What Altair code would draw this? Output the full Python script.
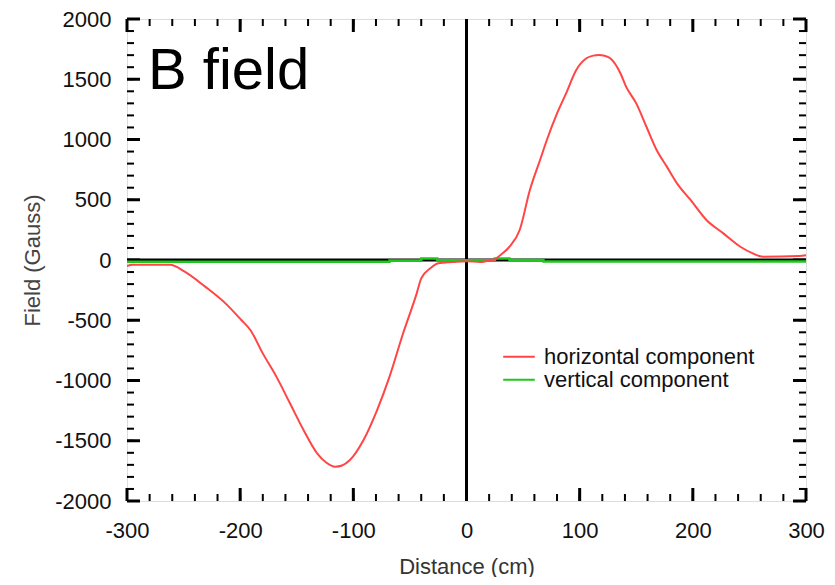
import altair as alt
import pandas as pd

# ---- data ----
red_x = [-300, -295, -262, -249, -231, -213, -199, -191, -180, -168, -156, -144, -132, -124,
         -116, -110, -103, -91, -79, -68, -56, -44, -40, -32, -25, -12, 0, 12, 20, 24, 30, 38,
         47, 56, 65, 71, 80, 88, 97, 106, 112, 117, 122, 127, 136, 141, 150, 159, 168, 177, 186, 198,
         212, 227, 242, 253, 262, 294, 300]
red_y = [-50, -40, -40, -97, -221, -360, -498, -581, -775, -968, -1189, -1411, -1604, -1680,
         -1715, -1705, -1660, -1494, -1245, -968, -608, -277, -152, -69, -27, -17, -10, -17, -5, 0, 41, 110,
         249, 581, 830, 996, 1217, 1383, 1577, 1674, 1696, 1701, 1695, 1674, 1550, 1439, 1300, 1106, 913, 775, 636, 498,
         332, 221, 110, 55, 27, 33, 40]

green_x = [-300, -68, -40, -26, 25, 38, 68, 300]
green_y = [-15, -5, 12, -3, 12, 0, -12, -12]

series_names = ["horizontal component", "vertical component"]
series_colors = ["#ff4545", "#1ec81e"]

x_major = list(range(-300, 301, 100))
x_minor = list(range(-300, 301, 20))
y_major = list(range(-2000, 2001, 500))
y_minor = list(range(-2000, 2001, 100))

title_text = ["B field"]

W, H = 679, 482
FONT = "Liberation Sans"
LBL = 22

df = pd.concat([
    pd.DataFrame({"x": red_x, "y": red_y, "series": series_names[0]}),
    pd.DataFrame({"x": green_x, "y": green_y, "series": series_names[1]}),
])

xs = alt.Scale(domain=[-300, 300], nice=False, zero=False, padding=0)
ys = alt.Scale(domain=[-2000, 2000], nice=False, zero=False, padding=0)

color = alt.Color("series:N", scale=alt.Scale(domain=series_names, range=series_colors),
                  legend=alt.Legend(title=None, orient="none", legendX=375, legendY=327,
                                    symbolType="stroke", symbolSize=1000, symbolStrokeWidth=2,
                                    labelFont=FONT, labelFontSize=LBL, labelColor="#111",
                                    labelLimit=0, clipHeight=21.6, rowPadding=0, labelOffset=8,
                                    padding=0))

label_expr = "'' + datum.value"

base_x = alt.X("x:Q", scale=xs,
               axis=alt.Axis(title="Distance (cm)", values=x_major, grid=False, domain=False,
                             ticks=False, tickSize=0, labelPadding=36, labelBaseline="alphabetic",
                             labelFlush=False, labelOverlap=False,
                             labelExpr=label_expr, labelFont=FONT,
                             labelFontSize=LBL, labelColor="#111", titleFont=FONT,
                             titleFontSize=22, titleFontWeight="normal", titleColor="#333",
                             titleBaseline="alphabetic", titleY=72))
base_y = alt.Y("y:Q", scale=ys,
               axis=alt.Axis(title="Field (Gauss)", values=y_major, grid=False, domain=False,
                             ticks=False, tickSize=0, labelPadding=16, labelExpr=label_expr,
                             labelFlush=False, labelOverlap=False,
                             labelFont=FONT, labelFontSize=LBL, labelColor="#111", titleFont=FONT,
                             titleFontSize=22, titleFontWeight="normal", titleColor="#444",
                             titleAngle=-90, titleX=-95, titleY=H / 2, titleAlign="center",
                             titleBaseline="middle"))

# zero lines
zero_h = alt.Chart(pd.DataFrame({"y": [0]})).mark_rule(color="black", strokeWidth=3).encode(
    y=alt.Y("y:Q", scale=ys))
zero_v = alt.Chart(pd.DataFrame({"x": [0]})).mark_rule(color="black", strokeWidth=3).encode(
    x=alt.X("x:Q", scale=xs))

lines_green = alt.Chart(df[df.series == series_names[1]]).mark_line(
    strokeWidth=2.5, interpolate="step-after").encode(x=base_x, y=base_y, color=color)
lines_red = alt.Chart(df[df.series == series_names[0]]).mark_line(
    strokeWidth=2, interpolate="monotone").encode(x=base_x, y=base_y, color=color)

# tick marks (inside, all four sides)
def xticks(vals, length, width):
    d = pd.DataFrame({"x": vals})
    bot = alt.Chart(d).mark_rule(color="black", strokeWidth=width).encode(
        x=alt.X("x:Q", scale=xs), y=alt.value(H), y2=alt.value(H - length))
    top = alt.Chart(d).mark_rule(color="black", strokeWidth=width).encode(
        x=alt.X("x:Q", scale=xs), y=alt.value(0), y2=alt.value(length))
    return [bot, top]

def yticks(vals, length, width):
    d = pd.DataFrame({"y": vals})
    left = alt.Chart(d).mark_rule(color="black", strokeWidth=width).encode(
        y=alt.Y("y:Q", scale=ys), x=alt.value(0), x2=alt.value(length))
    right = alt.Chart(d).mark_rule(color="black", strokeWidth=width).encode(
        y=alt.Y("y:Q", scale=ys), x=alt.value(W), x2=alt.value(W - length))
    return [left, right]

ticks = xticks(x_minor, 7, 2) + xticks(x_major, 13, 3) + yticks(y_minor, 7, 2) + yticks(y_major, 13, 3)

title = alt.Chart(pd.DataFrame({"t": title_text})).mark_text(
    font=FONT, fontSize=58, align="left", baseline="alphabetic", color="black").encode(
    text="t:N", x=alt.value(21), y=alt.value(70))

chart = alt.layer(zero_h, zero_v, *ticks, lines_green, lines_red, title).properties(
    width=W, height=H,
    autosize=alt.AutoSizeParams(type="none"),
    padding={"left": 119, "top": 11, "right": 21, "bottom": 76},
).configure_view(stroke="black", strokeWidth=3).configure(background="white")

chart.save("out.html", embed_options={"renderer": "svg", "actions": False})
